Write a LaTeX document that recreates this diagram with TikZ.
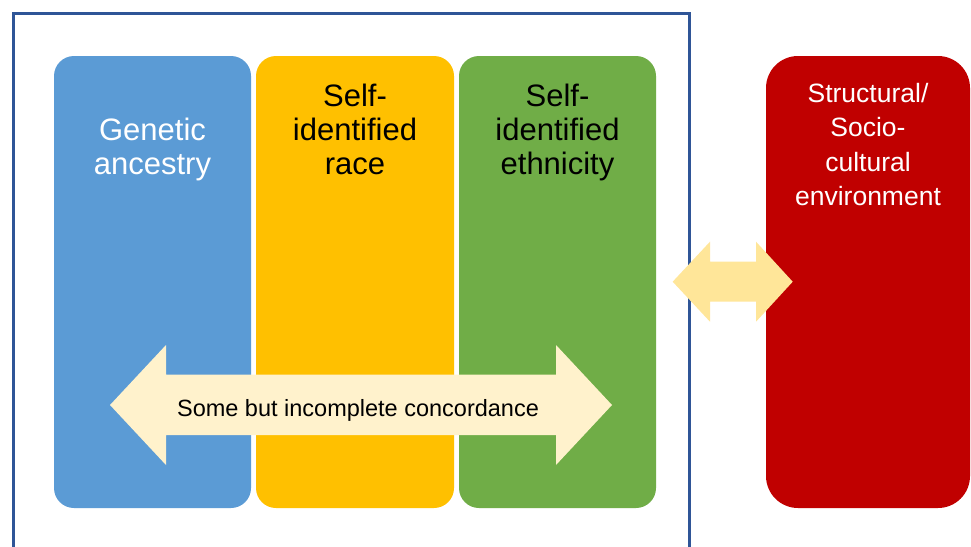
\documentclass[tikz,border=0pt]{standalone}
\usepackage{fontspec}
\setmainfont{Liberation Sans}
\definecolor{frameblue}{RGB}{47,85,151}
\definecolor{gblue}{RGB}{91,155,213}
\definecolor{gyellow}{RGB}{255,192,0}
\definecolor{ggreen}{RGB}{112,173,71}
\definecolor{gred}{RGB}{192,0,0}
\definecolor{cream}{RGB}{255,242,204}
\definecolor{lightyel}{RGB}{255,230,153}
\begin{document}
\begin{tikzpicture}[x=1pt,y=-1pt,
  colbox/.style={rectangle, rounded corners=20pt, inner sep=0pt, outer sep=0pt, minimum height=452pt},
  boxtext/.style={align=center, inner sep=0pt, anchor=base, font=\fontsize{31}{33.6}\selectfont},
  redtext/.style={align=center, inner sep=0pt, anchor=base, text=white, font=\fontsize{26.5}{34.3}\selectfont},
  arrowtext/.style={inner sep=0pt, anchor=base, font=\fontsize{23.5}{28}\selectfont}]
\useasboundingbox (0,0) rectangle (971,546);
\clip (0,0) rectangle (971,546);
\fill[white] (0,0) rectangle (971,546);
% frame
\draw[frameblue, line width=3pt] (13.5,560) -- (13.5,13.5) -- (689,13.5) -- (689,560);
% boxes
\node[colbox, fill=gblue, minimum width=197pt] (genetic) at (152.5,282) {};
\node[colbox, fill=gyellow, minimum width=198pt] (race) at (355,282) {};
\node[colbox, fill=ggreen, minimum width=197pt] (ethnicity) at (557.5,282) {};
\node[colbox, fill=gred, minimum width=204pt, rounded corners=32pt] (environment) at (868,282) {};
% labels (base anchor = baseline of the last line)
\node[boxtext, text=white] (genetictext) at (152.5,174) {Genetic\\ancestry};
\node[boxtext, text=black] (racetext) at (355,174) {Self-\\identified\\race};
\node[boxtext, text=black] (ethnicitytext) at (557.5,174) {Self-\\identified\\ethnicity};
\node[redtext] (environmenttext) at (868,205.5) {Structural/\\Socio-\\cultural\\environment};
% big double arrow
\fill[cream] (110,405) -- (166,345) -- (166,374.5) -- (556,374.5) -- (556,345) -- (612,405)
  -- (556,465) -- (556,435) -- (166,435) -- (166,465) -- cycle;
\node[arrowtext] (concordance) at (358,416.5) {Some but incomplete concordance};
% small double arrow
\fill[lightyel] (672.7,281.7) -- (710,241.7) -- (710,261.7) -- (756,261.7) -- (756,241.7) -- (792.7,281.7)
  -- (756,321.7) -- (756,301.7) -- (710,301.7) -- (710,321.7) -- cycle;
\end{tikzpicture}
\end{document}
